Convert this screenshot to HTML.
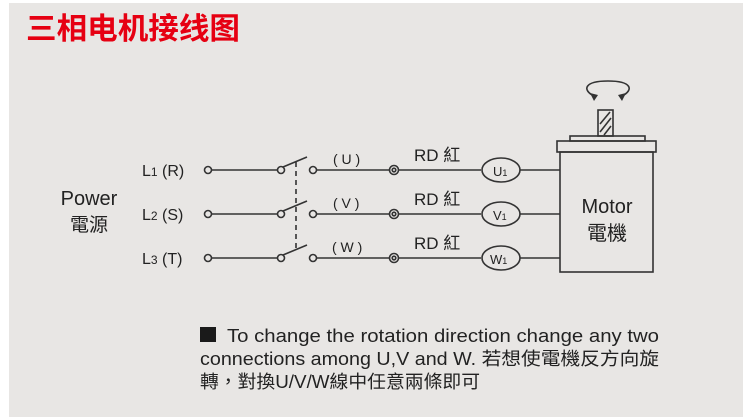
<!DOCTYPE html>
<html><head><meta charset="utf-8"><style>
body{margin:0;background:#fff;width:750px;height:420px;overflow:hidden}
svg{display:block}
text{font-family:"Liberation Sans","Noto Sans CJK TC",sans-serif;fill:#222}
</style></head><body>
<svg width="750" height="420" viewBox="0 0 750 420">
<rect x="9" y="3" width="734" height="414" fill="#e8e6e4"/>
<text x="26" y="39" font-size="30" font-weight="bold" style="fill:#e60012" font-family="Noto Sans CJK SC,sans-serif" textLength="214" lengthAdjust="spacingAndGlyphs">三相电机接线图</text>
<g stroke="#333" stroke-width="1.6" fill="none">
<g id="r">
<circle cx="208" cy="170" r="3.5"/>
<line x1="212" y1="170" x2="277" y2="170"/>
<circle cx="281" cy="170" r="3.5"/>
<line x1="283" y1="167" x2="307" y2="157"/>
<circle cx="313" cy="170" r="3.5"/>
<line x1="317" y1="170" x2="390" y2="170"/>
<circle cx="394" cy="170" r="4.5"/><circle cx="394" cy="170" r="1.8"/>
<line x1="399" y1="170" x2="481" y2="170"/>
<ellipse cx="501" cy="170" rx="19" ry="12"/>
<line x1="520" y1="170" x2="560" y2="170"/>
</g>
<use href="#r" y="44"/>
<use href="#r" y="88"/>
<line x1="296" y1="162" x2="296" y2="250" stroke-dasharray="5,4"/>
<rect x="560" y="152" width="93" height="120"/>
<rect x="557" y="141" width="99" height="11"/>
<rect x="570" y="136" width="75" height="5"/>
<rect x="598" y="110" width="15" height="26"/>
<line x1="600" y1="124" x2="610" y2="112"/><line x1="600" y1="132" x2="611" y2="118"/><line x1="604" y1="135" x2="611" y2="126"/>
<path d="M594 96 C582 90,584 81,608 81 C632 81,634 90,622 96"/>
</g>
<path d="M590 93 l4 8 l4-6z M626 93 l-4 8 l-4-6z" fill="#333"/>
<g font-size="16">
<text x="142" y="176">L<tspan font-size="12">1</tspan> (R)</text>
<text x="142" y="220">L<tspan font-size="12">2</tspan> (S)</text>
<text x="142" y="264">L<tspan font-size="12">3</tspan> (T)</text>
<text x="333" y="164" font-size="14">( U )</text>
<text x="333" y="208" font-size="14">( V )</text>
<text x="332" y="252" font-size="14">( W )</text>
<text x="414" y="161" font-size="17">RD 紅</text>
<text x="414" y="205" font-size="17">RD 紅</text>
<text x="414" y="249" font-size="17">RD 紅</text>
<text x="493" y="176" font-size="13">U<tspan font-size="9">1</tspan></text>
<text x="493" y="220" font-size="13">V<tspan font-size="9">1</tspan></text>
<text x="490" y="264" font-size="13">W<tspan font-size="9">1</tspan></text>
</g>
<text x="89" y="205" font-size="20" text-anchor="middle">Power</text>
<text x="89" y="231" font-size="19" text-anchor="middle">電源</text>
<text x="607" y="213" font-size="20" text-anchor="middle">Motor</text>
<text x="607" y="240" font-size="20" text-anchor="middle">電機</text>
<rect x="200" y="327" width="16" height="15" fill="#1a1a1a"/>
<g font-size="18">
<text x="227" y="342" textLength="432" lengthAdjust="spacingAndGlyphs">To change the rotation direction change any two</text>
<text x="200" y="365" textLength="459" lengthAdjust="spacingAndGlyphs">connections among U,V and W. 若想使電機反方向旋</text>
<text x="200" y="388" textLength="280" lengthAdjust="spacingAndGlyphs">轉，對換U/V/W線中任意兩條即可</text>
</g>
</svg>
</body></html>
